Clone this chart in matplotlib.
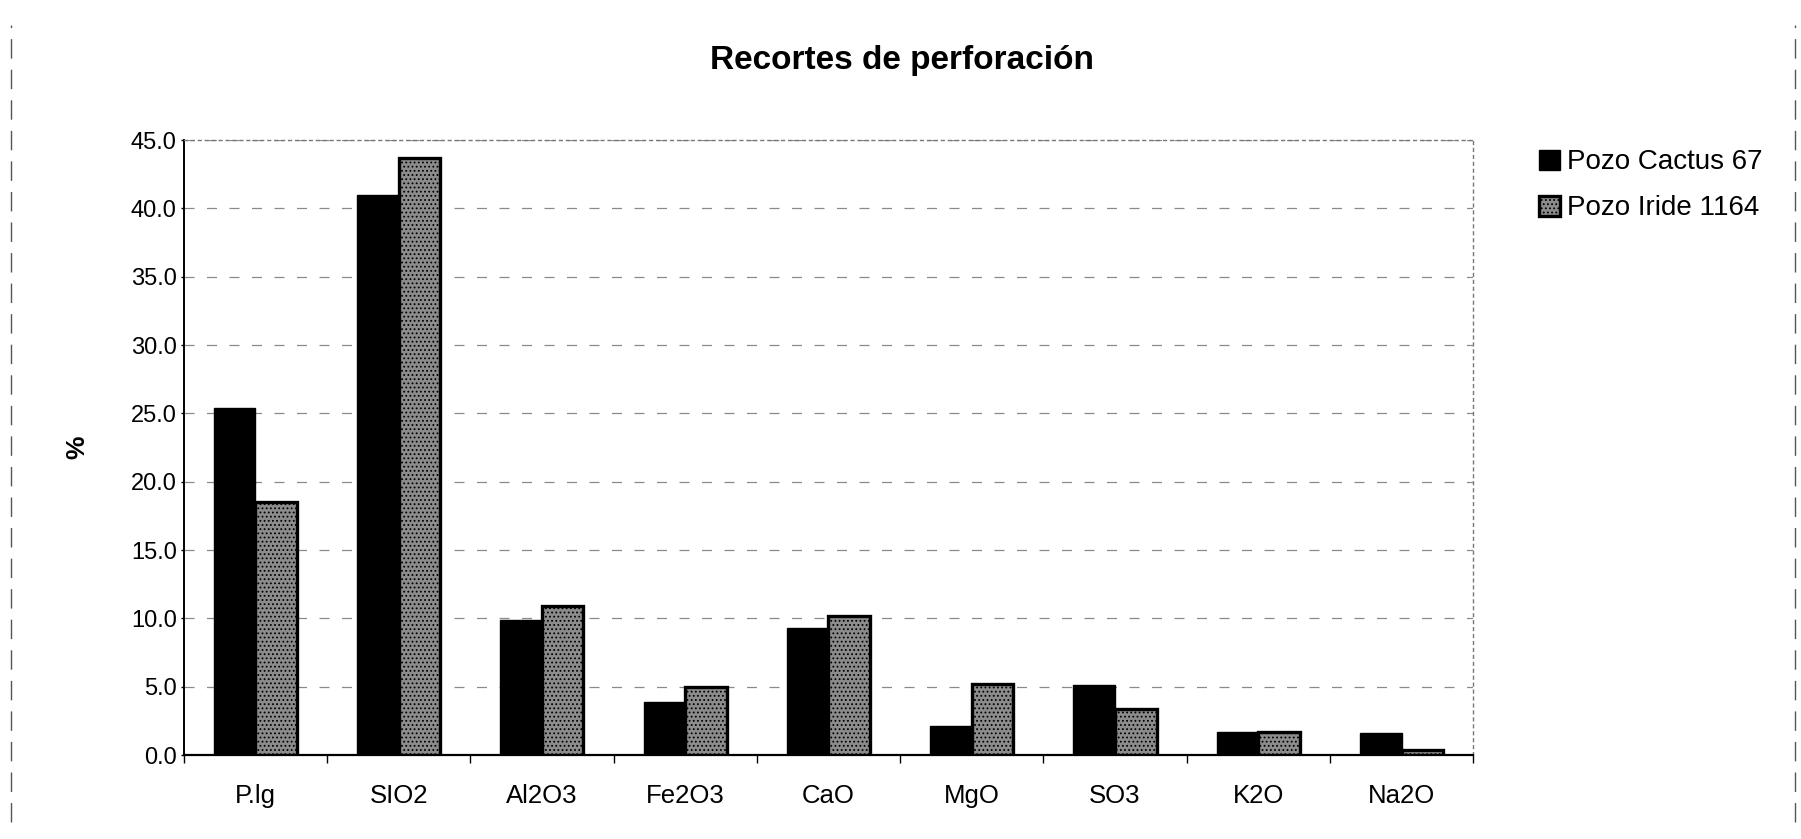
import matplotlib
matplotlib.use("Agg")
import matplotlib.pyplot as plt
import numpy as np
from matplotlib.lines import Line2D

plt.rcParams['font.family'] = ['Liberation Sans', 'DejaVu Sans']
plt.rcParams['hatch.linewidth'] = 0.8

categories = ["P.lg", "SIO2", "Al2O3", "Fe2O3", "CaO", "MgO", "SO3", "K2O", "Na2O"]
cactus_67 = [25.4, 41.0, 9.9, 3.9, 9.3, 2.1, 5.1, 1.7, 1.6]
iride_1164 = [18.5, 43.7, 10.9, 5.0, 10.2, 5.2, 3.4, 1.7, 0.4]
series_names = ["Pozo Cactus 67", "Pozo Iride 1164"]
y_ticks = [0, 5, 10, 15, 20, 25, 30, 35, 40, 45]

fig = plt.figure(figsize=(18.01, 8.39), dpi=100)
ax = fig.add_axes([0.102, 0.100, 0.716, 0.733])

x = np.arange(len(categories))
w = 0.29
b1 = ax.bar(x - w / 2, cactus_67, width=w, color="black", edgecolor="black",
            linewidth=1.0, zorder=3, label=series_names[0])
b2 = ax.bar(x + w / 2, iride_1164, width=w, color="#8c8c8c", edgecolor="black",
            linewidth=2.4, hatch="....", zorder=3, label=series_names[1])
for p in b2:
    if hasattr(p, "set_hatch_color"):
        p.set_hatch_color("#3c3c3c")

ax.set_xlim(-0.5, len(categories) - 0.5)
ax.set_ylim(0, 45)
ax.set_yticks(y_ticks)
ax.set_yticklabels([f"{v:.1f}" for v in y_ticks], fontsize=17)
ax.set_xticks(x)
ax.set_xticklabels(categories, fontsize=18.5)
ax.tick_params(axis="x", length=0, pad=21)
ax.tick_params(axis="y", length=2, width=1, pad=3)

# category separators on the x axis
ax.set_xticks(np.arange(len(categories) + 1) - 0.5, minor=True)
ax.tick_params(axis="x", which="minor", length=6, width=1, direction="out")

ax.yaxis.grid(True, linestyle=(0, (8, 10)), color="#8a8a8a", linewidth=0.9, zorder=0)
ax.set_axisbelow(True)

for side in ("top", "right"):
    ax.spines[side].set_linestyle((0, (2, 3)))
    ax.spines[side].set_color("#777777")
    ax.spines[side].set_linewidth(1.0)
ax.spines["left"].set_linewidth(1.4)
ax.spines["bottom"].set_linewidth(1.6)

ax.set_ylabel("%", fontsize=19, fontweight="bold", labelpad=30)

fig.text(0.501, 0.928, "Recortes de perforación", ha="center", va="center",
         fontsize=24, fontweight="bold")

leg = ax.legend(handles=[b1, b2], labels=series_names, loc="upper left",
                bbox_to_anchor=(1.038, 1.012), frameon=False, fontsize=20,
                handlelength=0.75, handleheight=0.75, handletextpad=0.25,
                labelspacing=0.72, borderaxespad=0.2)

# page edge marks
fig.add_artist(Line2D([0.006, 0.006], [0.02, 0.97], transform=fig.transFigure,
                      color="#555555", linewidth=1.0, linestyle=(0, (14, 8))))
fig.add_artist(Line2D([0.9965, 0.9965], [0.02, 0.97], transform=fig.transFigure,
                      color="#555555", linewidth=1.0, linestyle=(0, (14, 8))))

fig.savefig("out.png", dpi=100, facecolor="white")
